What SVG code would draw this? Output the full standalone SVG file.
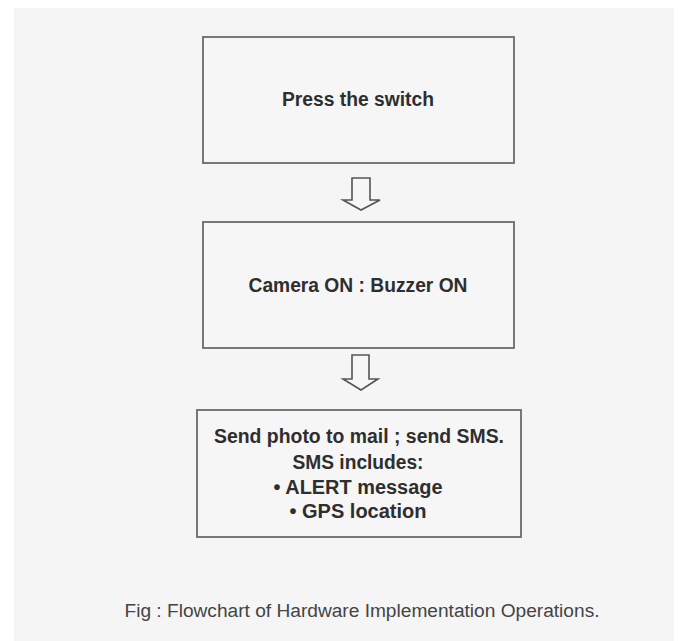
<svg xmlns="http://www.w3.org/2000/svg" width="678" height="641" viewBox="0 0 678 641">
  <defs>
    <style>
      .box { fill: #f6f6f6; stroke: #6b6b6b; stroke-width: 1.8; }
      .arrow { fill: #f6f6f6; stroke: #555555; stroke-width: 1.6; stroke-linejoin: miter; }
      .label { font-family: "Liberation Sans", Arial, sans-serif; font-weight: bold; font-size: 20px; fill: #2e2e2e; text-anchor: middle; }
      .caption { font-family: "Liberation Sans", Arial, sans-serif; font-size: 18px; fill: #444444; text-anchor: middle; }
    </style>
  </defs>

  <!-- page -->
  <rect x="0" y="0" width="678" height="641" fill="#ffffff"/>
  <rect x="14" y="8" width="660" height="633" fill="#f5f5f5"/>

  <!-- flow arrows -->
  <g id="connectors">
    <path class="arrow" d="M352,178 L370,178 L370,200 L380,200 L361,210 L343,200 L352,200 Z"/>
    <path class="arrow" d="M352,355 L369,355 L369,379 L378,379 L361,390 L343,379 L352,379 Z"/>
  </g>

  <g id="press-switch">
    <rect class="box" x="203" y="37" width="311" height="126"/>
    <text class="label" x="358" y="106" textLength="152" lengthAdjust="spacingAndGlyphs">Press the switch</text>
  </g>

  <g id="camera-buzzer">
    <rect class="box" x="203" y="222" width="311" height="126"/>
    <text class="label" x="358" y="292" textLength="219" lengthAdjust="spacingAndGlyphs">Camera ON : Buzzer ON</text>
  </g>

  <g id="send-alert">
    <rect class="box" x="197" y="410" width="324" height="127"/>
    <text class="label" x="359" y="443" textLength="290" lengthAdjust="spacingAndGlyphs">Send photo to mail ; send SMS.</text>
    <text class="label" x="358" y="469" textLength="131" lengthAdjust="spacingAndGlyphs">SMS includes:</text>
    <text class="label" x="358" y="494" textLength="169" lengthAdjust="spacingAndGlyphs">•  ALERT message</text>
    <text class="label" x="358" y="518" textLength="137" lengthAdjust="spacingAndGlyphs">•  GPS location</text>
  </g>

  <text class="caption" x="362" y="617" textLength="475" lengthAdjust="spacingAndGlyphs">Fig : Flowchart of Hardware Implementation Operations.</text>
</svg>
